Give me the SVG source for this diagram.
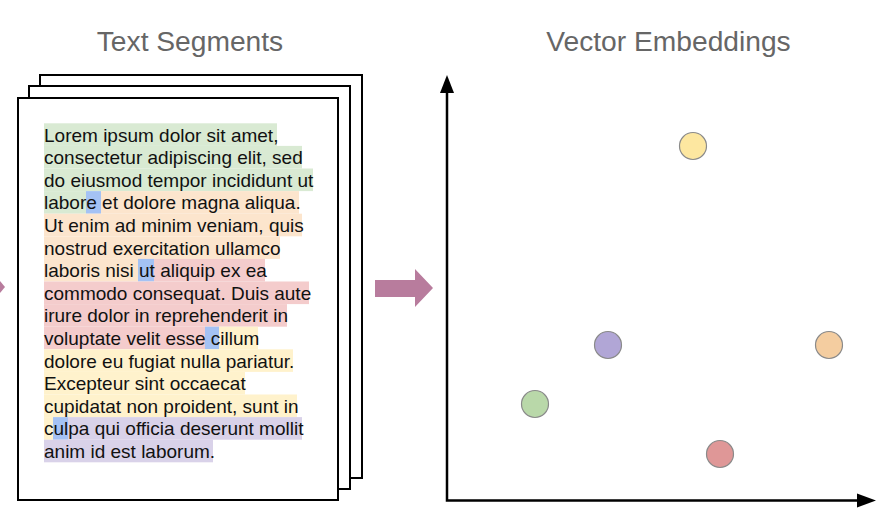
<svg xmlns="http://www.w3.org/2000/svg" width="894" height="526" viewBox="0 0 894 526">
<defs>
<style>
.title{font-family:"Liberation Sans",Arial,sans-serif;font-size:28.2px;fill:#666666;text-anchor:middle}
.body{font-family:"Liberation Sans",Arial,sans-serif;font-size:19px;fill:#111111}
.page{fill:#ffffff;stroke:#000000;stroke-width:2}
.g{fill:#d9ead3}.o{fill:#fce5cd}.r{fill:#f4cccc}.y{fill:#fff2cc}.p{fill:#d9d2e9}.b{fill:#a4c2f4}
.pt{stroke:#8a8a8a;stroke-width:1.2}
.axis{stroke:#000000;stroke-width:2.5;fill:none}
</style>
</defs>
<rect width="894" height="526" fill="#ffffff"/>
<text class="title" x="190" y="51">Text Segments</text>
<text class="title" x="668.5" y="51">Vector Embeddings</text>
<polygon points="0,281 5,287 0,293" fill="#b87c9d"/>
<g id="pages">
<rect class="page" x="40" y="75" width="322" height="403"/>
<rect class="page" x="29" y="86" width="321" height="403"/>
<rect class="page" x="18" y="98" width="320" height="402"/>
</g>
<g id="text-segments">
<g id="highlights">
<rect class="g" x="44" y="123.3" width="233" height="22.6"/>
<rect class="g" x="44" y="145.9" width="258" height="22.6"/>
<rect class="g" x="44" y="168.5" width="269" height="22.6"/>
<rect class="g" x="44" y="191.1" width="42" height="22.6"/>
<rect class="b" x="86" y="191.1" width="15" height="22.6"/>
<rect class="o" x="101" y="191.1" width="198" height="22.6"/>
<rect class="o" x="44" y="213.7" width="258" height="22.6"/>
<rect class="o" x="44" y="236.3" width="236" height="22.6"/>
<rect class="o" x="44" y="258.9" width="94" height="22.6"/>
<rect class="b" x="138" y="258.9" width="16" height="22.6"/>
<rect class="r" x="154" y="258.9" width="111" height="22.6"/>
<rect class="r" x="44" y="281.5" width="265" height="22.6"/>
<rect class="r" x="44" y="304.1" width="243" height="22.6"/>
<rect class="r" x="44" y="326.7" width="161" height="22.6"/>
<rect class="b" x="205" y="326.7" width="14" height="22.6"/>
<rect class="y" x="219" y="326.7" width="39" height="22.6"/>
<rect class="y" x="44" y="349.3" width="249" height="22.6"/>
<rect class="y" x="44" y="371.9" width="201" height="22.6"/>
<rect class="y" x="44" y="394.5" width="253" height="22.6"/>
<rect class="y" x="44" y="417.1" width="9" height="22.6"/>
<rect class="b" x="53" y="417.1" width="15" height="22.6"/>
<rect class="p" x="68" y="417.1" width="234" height="22.6"/>
<rect class="p" x="44" y="439.7" width="169" height="22.6"/>
</g>
<text class="body">
<tspan x="44" y="141.5">Lorem ipsum dolor sit amet,</tspan>
<tspan x="44" y="164.1">consectetur adipiscing elit, sed</tspan>
<tspan x="44" y="186.7">do eiusmod tempor incididunt ut</tspan>
<tspan x="44" y="209.3">labore et dolore magna aliqua.</tspan>
<tspan x="44" y="231.9">Ut enim ad minim veniam, quis</tspan>
<tspan x="44" y="254.5">nostrud exercitation ullamco</tspan>
<tspan x="44" y="277.1">laboris nisi ut aliquip ex ea</tspan>
<tspan x="44" y="299.7">commodo consequat. Duis aute</tspan>
<tspan x="44" y="322.3">irure dolor in reprehenderit in</tspan>
<tspan x="44" y="344.9">voluptate velit esse cillum</tspan>
<tspan x="44" y="367.5">dolore eu fugiat nulla pariatur.</tspan>
<tspan x="44" y="390.1">Excepteur sint occaecat</tspan>
<tspan x="44" y="412.7">cupidatat non proident, sunt in</tspan>
<tspan x="44" y="435.3">culpa qui officia deserunt mollit</tspan>
<tspan x="44" y="457.9">anim id est laborum.</tspan>
</text>
</g>
<g id="connectors">
<polygon id="embed-arrow" points="375,280 415,280 415,269 433,288 415,307 415,297 375,297" fill="#b87c9d"/>
</g>
<g id="chart">
<path class="axis" d="M447,93 V500.5 H858"/>
<polygon points="440,93 447,75 454,93" fill="#000000"/>
<polygon points="857,493.5 876,500.5 857,507.5" fill="#000000"/>
</g>
<g id="points">
<circle id="pt-yellow" class="pt" cx="693" cy="146" r="13.5" fill="#fde7a0"/>
<circle id="pt-purple" class="pt" cx="608" cy="345" r="13.5" fill="#b1a6d6"/>
<circle id="pt-orange" class="pt" cx="829" cy="345" r="13.5" fill="#f4cda0"/>
<circle id="pt-green" class="pt" cx="535" cy="404" r="13.5" fill="#b9d8a9"/>
<circle id="pt-red" class="pt" cx="720" cy="454" r="13.5" fill="#df9797"/>
</g>
</svg>
